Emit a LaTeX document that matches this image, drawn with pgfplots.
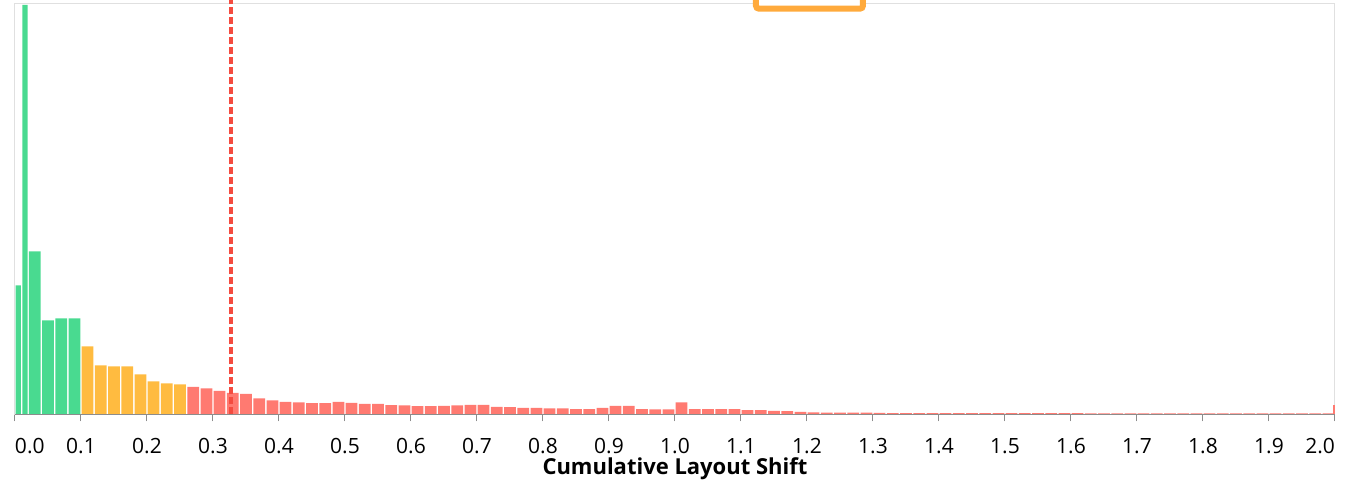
\documentclass[border=0pt]{standalone}
\usepackage{fontspec}
\setmainfont{Open Sans}
\usepackage{pgfplots}
\pgfplotsset{compat=1.18}

\definecolor{good}{RGB}{73,218,144}
\definecolor{mid}{RGB}{255,187,64}
\definecolor{poor}{RGB}{255,122,113}
\definecolor{pline}{RGB}{244,75,63}
\definecolor{hilite}{RGB}{255,170,60}
\definecolor{framegray}{RGB}{224,224,224}
\definecolor{axisgray}{RGB}{140,140,140}

\begin{document}
\begin{tikzpicture}
\useasboundingbox (-15pt,-72.5pt) rectangle (1330pt,414.5pt);
\begin{axis}[
    at={(0,0)}, anchor=south west,
    scale only axis,
    width=1320pt, height=411pt,
    xmin=0, xmax=2, ymin=0, ymax=411,
    clip=false,
    axis line style={draw=framegray, line width=1pt},
    ytick=\empty,
    xtick={0,0.1,0.2,0.3,0.4,0.5,0.6,0.7,0.8,0.9,1.0,1.1,1.2,1.3,1.4,1.5,1.6,1.7,1.8,1.9,2.0},
    xticklabels={\makebox[0pt][l]{0.0},0.1,0.2,0.3,0.4,0.5,0.6,0.7,0.8,0.9,1.0,1.1,1.2,1.3,1.4,1.5,1.6,1.7,1.8,1.9,\makebox[0pt][r]{2.0}},
    xtick pos=bottom,
    tick align=outside,
    major tick length=7pt,
    tick style={draw=axisgray, line width=1pt},
    xticklabel style={font=\fontsize{21}{21}\selectfont, anchor=base, yshift=-32.5pt},
    xlabel={Cumulative Layout Shift},
    xlabel style={font=\bfseries\fontsize{22}{22}\selectfont, at={(axis description cs:0.5,0)}, anchor=base, yshift=-60pt},
]
% good (<= 0.1)
\addplot[ybar interval, fill=good, draw=none, bar interval width=0.79] coordinates {
    (0.00,129) (0.01,409.5) (0.02,0)
};
\addplot[ybar interval, fill=good, draw=none, bar interval width=0.89] coordinates {
    (0.02,163) (0.04,94) (0.06,96) (0.08,96) (0.10,0)
};
% needs improvement
\addplot[ybar interval, fill=mid, draw=none, bar interval width=0.89] coordinates {
    (0.10,68) (0.12,49) (0.14,48) (0.16,48) (0.18,40) (0.20,33) (0.22,31) (0.24,30) (0.26,0)
};
% poor
\addplot[ybar interval, fill=poor, draw=none, bar interval width=0.89] coordinates {
    (0.26,27.5) (0.28,26) (0.30,23.5) (0.32,21.5) (0.34,20.5) (0.36,16) (0.38,14)
    (0.40,12.7) (0.42,12) (0.44,11.3) (0.46,11.3) (0.48,12.7) (0.50,11.7) (0.52,10.7)
    (0.54,10.7) (0.56,9.3) (0.58,9) (0.60,8.3) (0.62,8.3) (0.64,8.7) (0.66,9.2)
    (0.68,9.5) (0.70,9.5) (0.72,7.5) (0.74,7.3) (0.76,6.7) (0.78,6.7) (0.80,6)
    (0.82,6) (0.84,5.3) (0.86,5.3) (0.88,6.7) (0.90,8.7) (0.92,8.7) (0.94,5.3)
    (0.96,5) (0.98,5) (1.00,12) (1.02,5.3) (1.04,5.3) (1.06,5.3) (1.08,5.3)
    (1.10,4.3) (1.12,4.3) (1.14,3.7) (1.16,3.3) (1.18,2.7) (1.20,2) (1.22,1.8)
    (1.24,1.8) (1.26,1.8) (1.28,1.8) (1.30,1.5) (1.32,1.4) (1.34,1.4) (1.36,1.4)
    (1.38,1.4) (1.40,1.4) (1.42,1.4) (1.44,1.4) (1.46,1.4) (1.48,1.4) (1.50,1.4)
    (1.52,1.4) (1.54,1.4) (1.56,1.4) (1.58,1.4) (1.60,1.4) (1.62,1.0) (1.64,1.0)
    (1.66,1.0) (1.68,1.0) (1.70,1.0) (1.72,1.0) (1.74,1.0) (1.76,1.0) (1.78,1.0)
    (1.80,1.0) (1.82,1.0) (1.84,1.0) (1.86,1.0) (1.88,1.0) (1.90,1.0) (1.92,1.0)
    (1.94,1.0) (1.96,1.0) (1.98,1.0) (2.00,0)
};
\addplot[ybar interval, fill=poor, draw=none] coordinates {
    (1.997,9.5) (2.000,0)
};
% bottom axis line
\draw[axisgray, line width=1.2pt] (rel axis cs:0,0) -- (rel axis cs:1,0);
% 75th percentile marker
\addplot[pline, line width=3.5pt, dash pattern=on 7pt off 3pt] coordinates {
    (0.327,0) (0.327,414.5)
};
% highlight box cut off at the top
\draw[hilite, line width=6pt, fill=white, rounded corners=3pt]
    (axis cs:1.1227,405.8) rectangle (axis cs:1.2848,440);
\end{axis}
\end{tikzpicture}
\end{document}
